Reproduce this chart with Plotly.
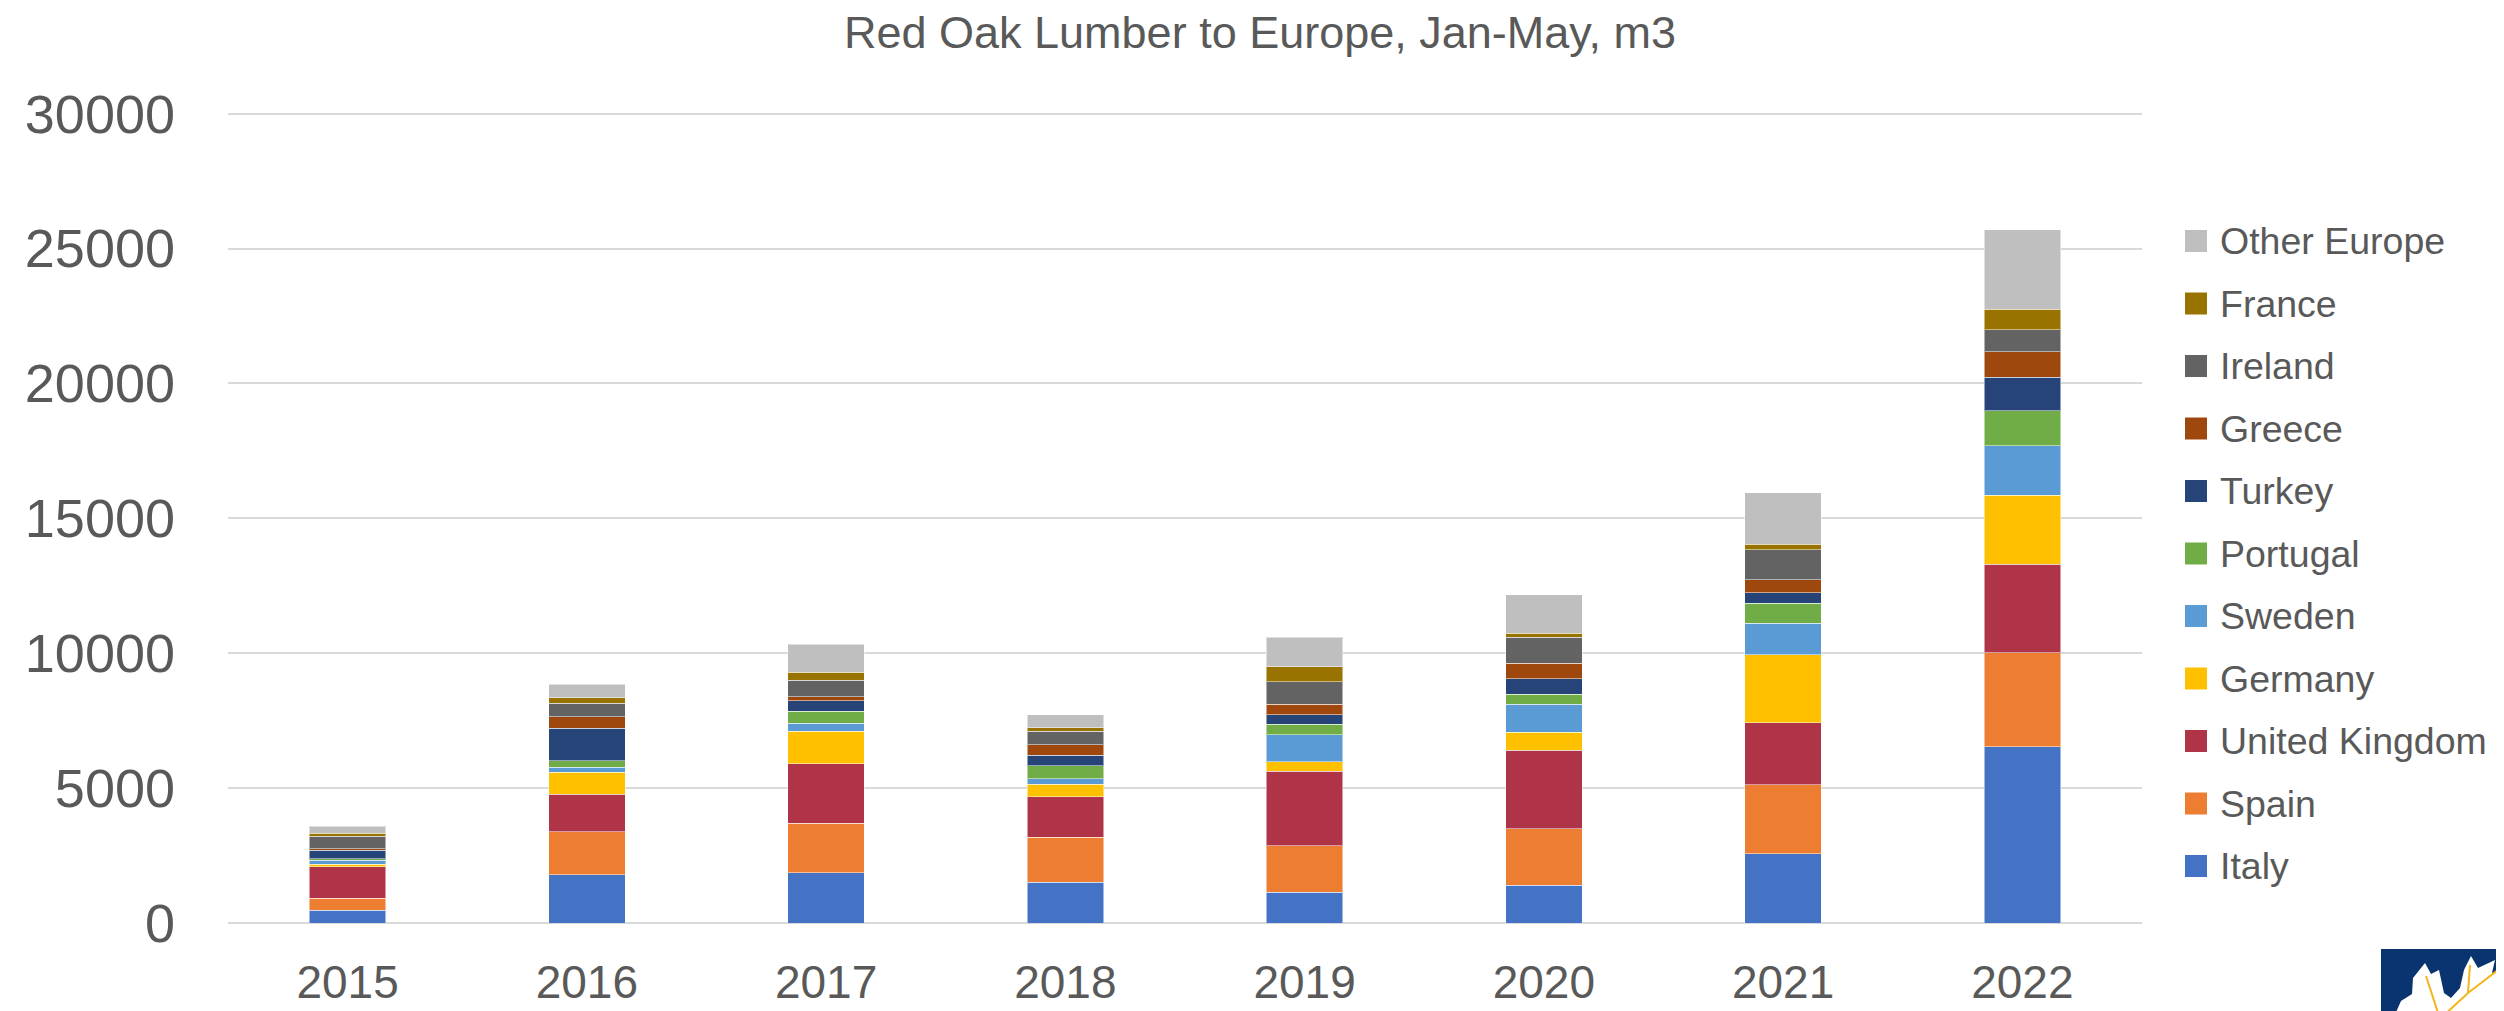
import plotly.graph_objects as go

years = ['2015', '2016', '2017', '2018', '2019', '2020', '2021', '2022']

italy = [470, 1790, 1865, 1505, 1140, 1395, 2560, 6530]
spain = [445, 1590, 1830, 1680, 1715, 2095, 2560, 3485]
united_kingdom = [1170, 1390, 2200, 1495, 2765, 2905, 2300, 3275]
germany = [90, 810, 1210, 455, 365, 670, 2530, 2565]
sweden = [150, 185, 295, 220, 990, 1045, 1165, 1840]
portugal = [50, 245, 455, 470, 390, 360, 735, 1290]
turkey = [320, 1205, 385, 385, 360, 580, 400, 1240]
greece = [60, 430, 150, 395, 390, 570, 480, 940]
ireland = [455, 495, 605, 505, 820, 980, 1110, 830]
france = [125, 210, 295, 135, 555, 140, 205, 760]
other_europe = [245, 505, 1035, 470, 1110, 1420, 1910, 2935]

series = [
    ('Italy', italy, '#4472C4'),
    ('Spain', spain, '#ED7D31'),
    ('United Kingdom', united_kingdom, '#B03448'),
    ('Germany', germany, '#FFC000'),
    ('Sweden', sweden, '#5B9BD5'),
    ('Portugal', portugal, '#70AD47'),
    ('Turkey', turkey, '#264478'),
    ('Greece', greece, '#9E480E'),
    ('Ireland', ireland, '#636363'),
    ('France', france, '#997300'),
    ('Other Europe', other_europe, '#BFBFBF'),
]

font = 'Liberation Sans, Arial, sans-serif'
grey = '#595959'

W, H = 2504, 1011
L, R, T, B = 220, 370, 104, 96
pw, ph = W - L - R, H - T - B


def px(x, y):
    # pixel position -> paper coords
    return (x - L) / pw, (H - B - y) / ph


fig = go.Figure()
for name, vals, col in series:
    fig.add_trace(go.Bar(x=years, y=vals, name=name, showlegend=False,
                         marker=dict(color=col, line=dict(width=1, color='rgba(255,255,255,0.5)'))))

fig.update_layout(
    barmode='stack', bargap=0.68,
    width=W, height=H,
    margin=dict(l=L, r=R, t=T, b=B),
    plot_bgcolor='white', paper_bgcolor='white',
    font=dict(family=font, color=grey),
    title=dict(text='Red Oak Lumber to Europe, Jan-May, m3', x=0.5, xanchor='center',
               y=0.992, yanchor='top', font=dict(size=45, color=grey)),
)
fig.update_yaxes(range=[0, 30060], tickvals=[0, 5000, 10000, 15000, 20000, 25000, 30000],
                 tickformat='d', showgrid=True, gridcolor='#D9D9D9', gridwidth=2,
                 zeroline=True, zerolinecolor='#D9D9D9', zerolinewidth=2,
                 tickfont=dict(size=54, color=grey), ticks='', ticklabelstandoff=52)
fig.update_xaxes(showline=False, tickfont=dict(size=46, color=grey), ticklabelstandoff=28)

# legend drawn by hand, Other Europe on top
for i, (name, vals, col) in enumerate(reversed(series)):
    yc = 233 + i * 62.5
    x0, y0 = px(2177, yc - 11)
    x1, y1 = px(2199, yc + 11)
    fig.add_shape(type='rect', xref='paper', yref='paper', x0=x0, x1=x1, y0=y1, y1=y0,
                  fillcolor=col, line_width=0)
    tx, ty = px(2210, yc)
    fig.add_annotation(xref='paper', yref='paper', x=tx, y=ty, text=name, showarrow=False,
                       xanchor='left', yanchor='middle', font=dict(size=37.5, color=grey))

# logo corner
x0, y0 = px(2373, 1011)
x1, y1 = px(2504, 941)
fig.add_shape(type='rect', xref='paper', yref='paper', x0=x0, x1=x1, y0=y0, y1=y1,
              fillcolor='#0A3470', line_width=0, layer='above')
leaf = [(2385, 1011), (2393, 993), (2404, 986), (2405, 970), (2417, 955), (2423, 966), (2431, 962),
        (2436, 985), (2443, 990), (2452, 980), (2456, 962), (2463, 948), (2470, 960), (2487, 952),
        (2484, 965), (2500, 962), (2494, 975), (2504, 980), (2504, 1011)]
path = 'M ' + ' L '.join('%.5f,%.5f' % px(a, b) for a, b in leaf) + ' Z'
fig.add_shape(type='path', xref='paper', yref='paper', path=path, fillcolor='white',
              line_width=0, layer='above')
for seg in [[(2432, 1011), (2460, 985), (2490, 962)], [(2432, 1011), (2418, 968)], [(2460, 985), (2462, 957)]]:
    p = 'M ' + ' L '.join('%.5f,%.5f' % px(a, b) for a, b in seg)
    fig.add_shape(type='path', xref='paper', yref='paper', path=p,
                  line=dict(color='#F2B51C', width=2), layer='above')

fig.write_html('out.html')
